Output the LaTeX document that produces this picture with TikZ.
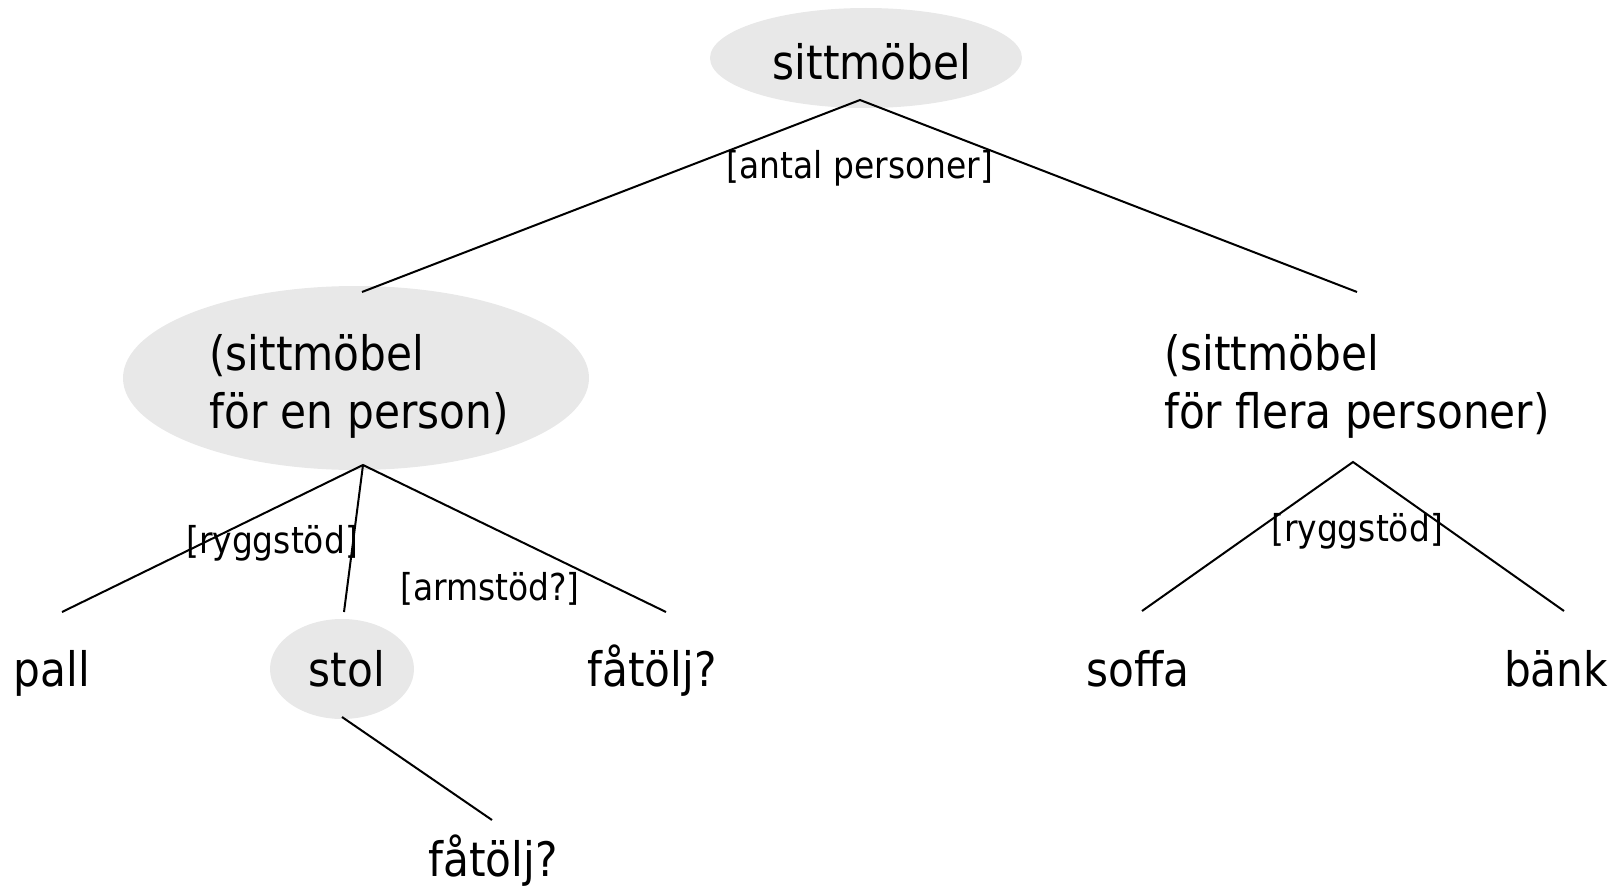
\documentclass[tikz,border=0pt]{standalone}
\usepackage{fontspec}
\setmainfont{DejaVu Sans}[FakeStretch=0.89]
\usetikzlibrary{shapes.geometric}
\definecolor{ellfill}{RGB}{232,232,232}
\begin{document}
\begin{tikzpicture}[x=0.5pt,y=-0.5pt,
  big/.style={font=\fontsize{23.75}{29}\selectfont, inner sep=0pt},
  leaf/.style={big, anchor=base},
  small/.style={font=\fontsize{18.5}{22}\selectfont, inner sep=0pt, anchor=base},
  ell/.style={ellipse, fill=ellfill, draw=none, inner sep=0pt},
  link/.style={line width=1pt, draw=black}]
\useasboundingbox (0,0) rectangle (1618,888);
% nodes
\node[ell, minimum width=156pt, minimum height=50pt] (topbg) at (866,58) {};
\node[big] (top) at (872,62) {sittmöbel};
\node[ell, minimum width=233pt, minimum height=92pt] (onebg) at (356,378) {};
\node[big, align=left] (one) at (359,386) {(sittmöbel\\för en person)};
\node[big, align=left] (many) at (1357,386) {(sittmöbel\\för flera personer)};
\node[leaf] (pall) at (52,686) {pall};
\node[ell, minimum width=72pt, minimum height=50pt] (stolbg) at (342,669) {};
\node[leaf] (stol) at (347,686) {stol};
\node[leaf] (fat) at (652,686) {fåtölj?};
\node[leaf] (fat2) at (493,876) {fåtölj?};
\node[leaf] (soffa) at (1138,686) {soffa};
\node[leaf] (bank) at (1556,686) {bänk};
% connector end points
\coordinate (topB) at (860,100);
\coordinate (oneT) at (362,292);
\coordinate (manyT) at (1357,292);
\coordinate (oneB) at (363,465);
\coordinate (pallT) at (62,612);
\coordinate (stolT) at (344,612);
\coordinate (fatT) at (666,612);
\coordinate (stolB) at (342,717);
\coordinate (fat2T) at (492,820);
\coordinate (manyB) at (1353,462);
\coordinate (soffaT) at (1142,611);
\coordinate (bankT) at (1564,611);
% connectors
\draw[link] (oneT) -- (topB) -- (manyT);
\draw[link] (pallT) -- (oneB) -- (fatT);
\draw[link] (oneB) -- (stolT);
\draw[link] (stolB) -- (fat2T);
\draw[link] (soffaT) -- (manyB) -- (bankT);
% labels
\node[small] (lab1) at (860,178) {[antal personer]};
\node[small] (lab2) at (272,553) {[ryggstöd]};
\node[small] (lab3) at (490,600) {[armstöd?]};
\node[small] (lab4) at (1357,541) {[ryggstöd]};
\end{tikzpicture}
\end{document}
